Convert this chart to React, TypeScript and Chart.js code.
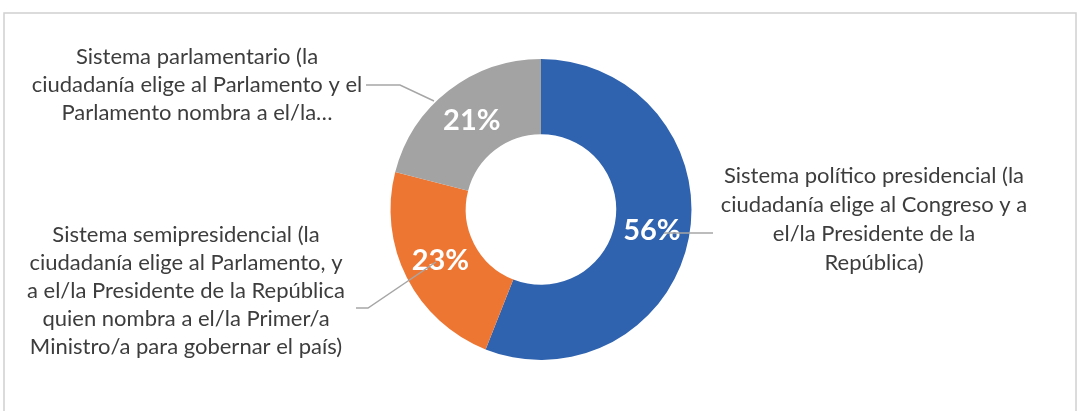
import React, { useEffect, useRef } from 'react';
import { Chart, registerables } from 'chart.js';

Chart.register(...registerables);

// ---- data ----
const categories = [
  'Sistema político presidencial (la ciudadanía elige al Congreso y a el/la Presidente de la República)',
  'Sistema semipresidencial (la ciudadanía elige al Parlamento, y a el/la Presidente de la República quien nombra a el/la Primer/a Ministro/a para gobernar el país)',
  'Sistema parlamentario (la ciudadanía elige al Parlamento y el Parlamento nombra a el/la…',
];
const values = [56, 23, 21];
const labelLines = [
  ['Sistema político presidencial (la', 'ciudadanía elige al Congreso y a', 'el/la Presidente de la', 'República)'],
  [
    'Sistema semipresidencial (la',
    'ciudadanía elige al Parlamento, y',
    'a el/la Presidente de la República',
    'quien nombra a el/la Primer/a',
    'Ministro/a para gobernar el país)',
  ],
  ['Sistema parlamentario (la', 'ciudadanía elige al Parlamento y el', 'Parlamento nombra a el/la…'],
];
const colors = ['#3063AF', '#EE7633', '#A3A3A3'];

// ---- layout (positions of external labels and leader lines) ----
const labelLayout = [
  { cx: 874, firstY: 176, lineH: 29, leader: [[713, 233], [664, 233]] },
  { cx: 186, firstY: 235, lineH: 28, leader: [[356, 308], [368, 308], [436, 262]] },
  { cx: 197, firstY: 57, lineH: 28, leader: [[366, 85], [400, 85], [434, 101]] },
];

const FONT = 'Lato, "Open Sans", sans-serif';

const decorPlugin = {
  id: 'decor',
  beforeDraw(chart: any) {
    const ctx = chart.ctx;
    ctx.save();
    ctx.fillStyle = '#ffffff';
    ctx.fillRect(0, 0, chart.width, chart.height);
    ctx.strokeStyle = '#d0d0d0';
    ctx.lineWidth = 1.5;
    ctx.strokeRect(4, 13, chart.width - 7, chart.height + 20);
    ctx.restore();
  },
  afterDatasetsDraw(chart: any) {
    const ctx = chart.ctx;
    const meta = chart.getDatasetMeta(0);
    const total = values.reduce((a, b) => a + b, 0);
    ctx.save();
    // percent labels
    meta.data.forEach((arc: any, i: number) => {
      const p = arc.getProps(['x', 'y', 'startAngle', 'endAngle', 'innerRadius', 'outerRadius'], true);
      const mid = (p.startAngle + p.endAngle) / 2;
      const r = (p.innerRadius + p.outerRadius) / 2;
      const x = p.x + Math.cos(mid) * r;
      const y = p.y + Math.sin(mid) * r;
      ctx.fillStyle = '#ffffff';
      ctx.font = `bold 29px ${FONT}`;
      ctx.textAlign = 'center';
      ctx.textBaseline = 'middle';
      ctx.fillText(Math.round((values[i] / total) * 100) + '%', x, y);
    });
    // external category labels
    labelLines.forEach((lines, i) => {
      const L = labelLayout[i];
      ctx.fillStyle = '#3d3d3d';
      ctx.font = `22px ${FONT}`;
      ctx.textAlign = 'center';
      ctx.textBaseline = 'middle';
      lines.forEach((t, j) => ctx.fillText(t, L.cx, L.firstY + j * L.lineH));
    });
    // leader lines
    ctx.strokeStyle = '#A6A6A6';
    ctx.lineWidth = 1.5;
    labelLayout.forEach((L) => {
      ctx.beginPath();
      L.leader.forEach(([x, y], k) => (k === 0 ? ctx.moveTo(x, y) : ctx.lineTo(x, y)));
      ctx.stroke();
    });
    ctx.restore();
  },
};

export default function App() {
  const ref = useRef<HTMLCanvasElement | null>(null);
  useEffect(() => {
    if (!ref.current) return;
    const chart = new Chart(ref.current, {
      type: 'doughnut',
      data: {
        labels: categories,
        datasets: [
          {
            data: values,
            backgroundColor: colors,
            borderWidth: 0,
            hoverOffset: 0,
          },
        ],
      },
      options: {
        responsive: false,
        animation: false,
        cutout: '50%',
        layout: { padding: { left: 390, right: 387, top: 59, bottom: 51 } },
        plugins: { legend: { display: false }, tooltip: { enabled: false } },
        events: [],
      },
      plugins: [decorPlugin],
    });
    return () => chart.destroy();
  }, []);
  return (
    <div style={{ position: 'absolute', left: 0, top: 0, width: 1079, height: 411, background: '#fff' }}>
      <canvas ref={ref} width={1079} height={411} style={{ width: 1079, height: 411, display: 'block' }} />
    </div>
  );
}
